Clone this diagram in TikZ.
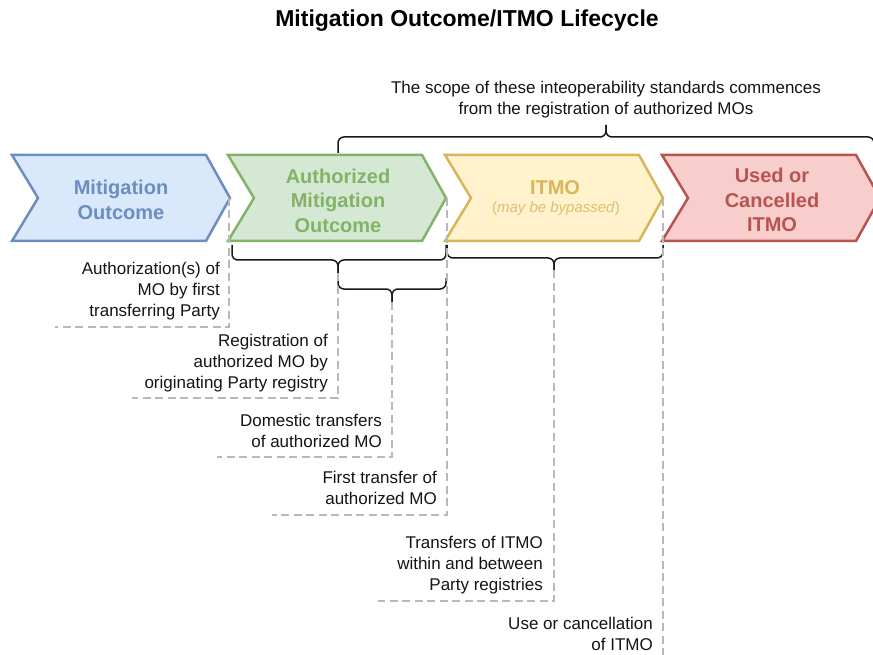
\documentclass[tikz,border=0pt]{standalone}
\usepackage{fontspec}
\setmainfont{Liberation Sans}
\definecolor{moFill}{HTML}{DAE8FC}\definecolor{moLine}{HTML}{6C8EBF}
\definecolor{amoFill}{HTML}{D5E8D4}\definecolor{amoLine}{HTML}{82B366}
\definecolor{itFill}{HTML}{FFF2CC}\definecolor{itLine}{HTML}{D6B656}
\definecolor{ucFill}{HTML}{F8CECC}\definecolor{ucLine}{HTML}{B85450}
\definecolor{guide}{HTML}{B8B8B8}
% one chevron: left x, style
\newcommand\mychevron[2]{\draw[chevbase,#2] (#1,155) -- ++(194,0) -- ++(24,43) -- ++(-24,43) -- ++(-194,0) -- ++(26,-43) -- cycle;}
\begin{document}
\begin{tikzpicture}[x=1pt,y=-1pt,
  chevbase/.style={line width=2.5pt,line join=miter},
  ctext/.style={font=\fontsize{20}{24.5}\selectfont\bfseries,align=center,inner sep=0pt},
  lbl/.style={font=\fontsize{17}{21}\selectfont,align=right,anchor=east,inner sep=0pt,text=black!92},
  dashline/.style={draw=guide,line width=2.5pt,dash pattern=on 8pt off 4.5pt},
  bracket/.style={draw=black!90,line width=1.5pt,rounded corners=6pt}]
\path[use as bounding box] (0,0) rectangle (873,655);
\clip (0,0) rectangle (873,655);

% title and scope note
\node[font=\fontsize{23}{27}\selectfont\bfseries,inner sep=0pt] (title) at (467,21) {Mitigation Outcome/ITMO Lifecycle};
\node[font=\fontsize{17}{21}\selectfont,align=center,inner sep=0pt,text=black!92] (scope) at (606,100)
  {The scope of these inteoperability standards commences\\from the registration of authorized MOs};

% lifecycle stages
\mychevron{12}{fill=moFill,draw=moLine}
\mychevron{228}{fill=amoFill,draw=amoLine}
\mychevron{445}{fill=itFill,draw=itLine}
\mychevron{662}{fill=ucFill,draw=ucLine}
\node[ctext,text=moLine] (mo) at (121,200) {Mitigation\\Outcome};
\node[ctext,text=amoLine] (amo) at (338,200.5) {Authorized\\Mitigation\\Outcome};
\node[ctext,text=itLine] (itmo) at (555,188) {ITMO};
\node[font=\fontsize{15}{18}\selectfont,inner sep=0pt,text=itLine!85] (bypass) at (556,209) {(\textit{may be bypassed})};
\node[ctext,text=ucLine] (used) at (772,200) {Used or\\Cancelled\\ITMO};

% stage boundaries and brace tips
\coordinate (tipMO) at (229,198);
\coordinate (tipAMO) at (447,198);
\coordinate (tipIT) at (663,198);
\coordinate (braceA) at (338,273);
\coordinate (braceB) at (392,302);
\coordinate (braceC) at (554,270);

% braces
\draw[bracket] (338,153) -- (338,137) -- (606,137) -- (606,125);
\draw[bracket] (874,153) -- (874,137) -- (606,137) -- (606,125);
\draw[bracket] (232,245) -- (232,260) -- (338,260) -- (braceA);
\draw[bracket] (446,245) -- (446,260) -- (338,260) -- (braceA);
\draw[bracket] (338,278) -- (338,289) -- (392,289) -- (braceB);
\draw[bracket] (446,278) -- (446,289) -- (392,289) -- (braceB);
\draw[bracket] (447,245) -- (447,258) -- (554,258) -- (braceC);
\draw[bracket] (663,245) -- (663,258) -- (554,258) -- (braceC);

% step labels
\node[lbl] (t1) at (220,291) {Authorization(s) of\\MO by first\\transferring Party};
\node[lbl] (t2) at (328,363) {Registration of\\authorized MO by\\originating Party registry};
\node[lbl] (t3) at (382,431) {Domestic transfers\\of authorized MO};
\node[lbl] (t4) at (437,488) {First transfer of\\authorized MO};
\node[lbl] (t5) at (543,565) {Transfers of ITMO\\within and between\\Party registries};
\node[lbl] (t6) at (653,633.5) {Use or cancellation\\of ITMO};

% guide lines framing each label
\coordinate (e1) at (55,327);
\coordinate (e2) at (132,398);
\coordinate (e3) at (217,457);
\coordinate (e4) at (272,515);
\coordinate (e5) at (378,601);
\coordinate (e6) at (663,660);
\draw[dashline] (tipMO) |- (e1);
\draw[dashline] (braceA) |- (e2);
\draw[dashline] (braceB) |- (e3);
\draw[dashline] (tipAMO) |- (e4);
\draw[dashline] (braceC) |- (e5);
\draw[dashline] (tipIT) -- (e6);
\end{tikzpicture}
\end{document}
